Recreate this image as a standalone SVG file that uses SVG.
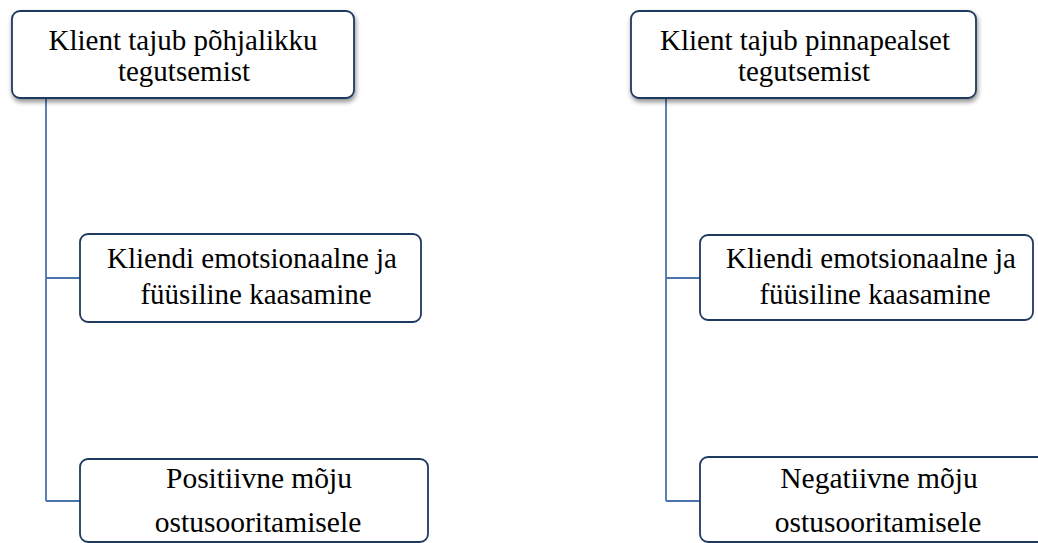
<svg xmlns="http://www.w3.org/2000/svg" width="1038" height="543" viewBox="0 0 1038 543">
<defs>
<filter id="sh" x="-10%" y="-20%" width="120%" height="150%">
<feGaussianBlur in="SourceAlpha" stdDeviation="2.5"/>
<feOffset dx="1" dy="3" result="b"/>
<feComponentTransfer><feFuncA type="linear" slope="0.45"/></feComponentTransfer>
<feMerge><feMergeNode/><feMergeNode in="SourceGraphic"/></feMerge>
</filter>
</defs>
<style>
.box{fill:#ffffff;stroke:#1f3a5f;stroke-width:1.8}
.t{font-family:"Liberation Serif","Times New Roman",serif;font-size:29px;fill:#000;text-anchor:middle}
.b{font-size:29.5px}
.ln{fill:none;stroke:#4a74ab;stroke-width:1.8}
</style>
<rect width="1038" height="543" fill="#ffffff"/>
<g id="connectors">
<path class="ln" d="M46 98 V501 M46 278 H80 M46 501 H80"/>
<path class="ln" d="M666 98 V501 M666 278 H700 M666 501 H700"/>
</g>
<g id="n1" font-family="Liberation Serif, serif">
<rect class="box" x="12" y="11" width="342" height="87" rx="8" filter="url(#sh)"/>
<text class="t" x="183" y="50">Klient tajub põhjalikku</text>
<text class="t" x="184" y="81">tegutsemist</text>
</g>
<g id="n2" font-family="Liberation Serif, serif">
<rect class="box" x="80" y="234" width="341" height="88" rx="8"/>
<text class="t" x="252" y="268">Kliendi emotsionaalne ja</text>
<text class="t" x="256" y="304">füüsiline kaasamine</text>
</g>
<g id="n3" font-family="Liberation Serif, serif">
<rect class="box" x="80" y="459" width="348" height="83" rx="8"/>
<text class="t b" x="259" y="488">Positiivne mõju</text>
<text class="t b" x="258" y="532">ostusooritamisele</text>
</g>
<g id="n4" font-family="Liberation Serif, serif">
<rect class="box" x="631" y="11" width="345" height="87" rx="8" filter="url(#sh)"/>
<text class="t" x="805" y="50">Klient tajub pinnapealset</text>
<text class="t" x="804" y="81">tegutsemist</text>
</g>
<g id="n5" font-family="Liberation Serif, serif">
<rect class="box" x="700" y="235" width="333" height="85" rx="8"/>
<text class="t" x="871" y="268">Kliendi emotsionaalne ja</text>
<text class="t" x="875" y="304">füüsiline kaasamine</text>
</g>
<g id="n6" font-family="Liberation Serif, serif">
<rect class="box" x="700" y="457" width="350" height="85" rx="8"/>
<text class="t b" x="879" y="488">Negatiivne mõju</text>
<text class="t b" x="878" y="532">ostusooritamisele</text>
</g>
</svg>
